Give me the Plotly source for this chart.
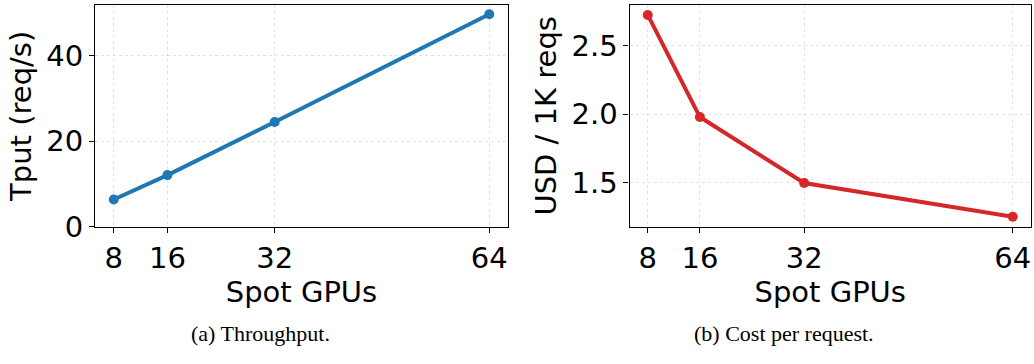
import plotly.graph_objects as go

gpus = [8, 16, 32, 64]
tput = [6.4, 12.1, 24.5, 49.7]
cost = [2.724, 1.979, 1.498, 1.252]
x_ticks = [8, 16, 32, 64]
tput_ticks = [0, 20, 40]
cost_ticks = [1.5, 2.0, 2.5]

BLUE = "#1f77b4"
RED = "#d62728"
FONT = "DejaVu Sans"
FS = 29

fig = go.Figure()
fig.add_trace(go.Scatter(x=gpus, y=tput, mode="lines+markers", xaxis="x", yaxis="y",
                         line=dict(color=BLUE, width=4), marker=dict(size=10, color=BLUE),
                         showlegend=False))
fig.add_trace(go.Scatter(x=gpus, y=cost, mode="lines+markers", xaxis="x2", yaxis="y2",
                         line=dict(color=RED, width=4), marker=dict(size=10, color=RED),
                         showlegend=False))

ydom = [1 - 238 / 364, 1 - 5 / 364]
grid = dict(showgrid=True, gridcolor="rgba(0,0,0,0.11)", griddash="3px,3px", gridwidth=1)
common_x = dict(tickvals=x_ticks, ticktext=[str(v) for v in x_ticks], range=[5.2, 66.8],
                showline=True, mirror=True, linecolor="black", linewidth=1.2,
                ticks="outside", ticklen=5, tickcolor="black",
                zeroline=False, tickfont=dict(family=FONT, size=FS, color="black"),
                title=dict(text="Spot GPUs", font=dict(family=FONT, size=FS, color="black"), standoff=2),
                **grid)
common_y = dict(showline=True, mirror=True, linecolor="black", linewidth=1.2,
                ticks="outside", ticklen=5, tickcolor="black",
                zeroline=False, tickfont=dict(family=FONT, size=FS, color="black"),
                **grid)

fig.update_layout(
    width=1034, height=364,
    margin=dict(l=0, r=0, t=0, b=0),
    paper_bgcolor="white", plot_bgcolor="white",
    xaxis=dict(domain=[95 / 1034, 508 / 1034], anchor="y", **common_x),
    xaxis2=dict(domain=[629.5 / 1034, 1031 / 1034], anchor="y2", **common_x),
    yaxis=dict(domain=ydom, anchor="x", range=[0, 51.9], tickvals=tput_ticks,
               ticktext=[str(v) for v in tput_ticks],
               title=dict(text="Tput (req/s)", font=dict(family=FONT, size=FS, color="black"), standoff=6),
               **common_y),
    yaxis2=dict(domain=ydom, anchor="x2", range=[1.178, 2.798], tickvals=cost_ticks,
                ticktext=["%.1f" % v for v in cost_ticks],
                title=dict(text="USD / 1K reqs", font=dict(family=FONT, size=FS, color="black"), standoff=6),
                **common_y),
    annotations=[
        dict(text="(a) Throughput.", x=260 / 1034, y=1 - 350 / 364, xref="paper", yref="paper",
             showarrow=False, xanchor="center", yanchor="middle",
             font=dict(family="Liberation Serif", size=22, color="black")),
        dict(text="(b) Cost per request.", x=784 / 1034, y=1 - 350 / 364, xref="paper", yref="paper",
             showarrow=False, xanchor="center", yanchor="middle",
             font=dict(family="Liberation Serif", size=22, color="black")),
    ],
)

fig.write_html("out.html", config={"displayModeBar": False},
               post_script="document.body.style.margin='0';document.body.style.overflow='hidden';")
